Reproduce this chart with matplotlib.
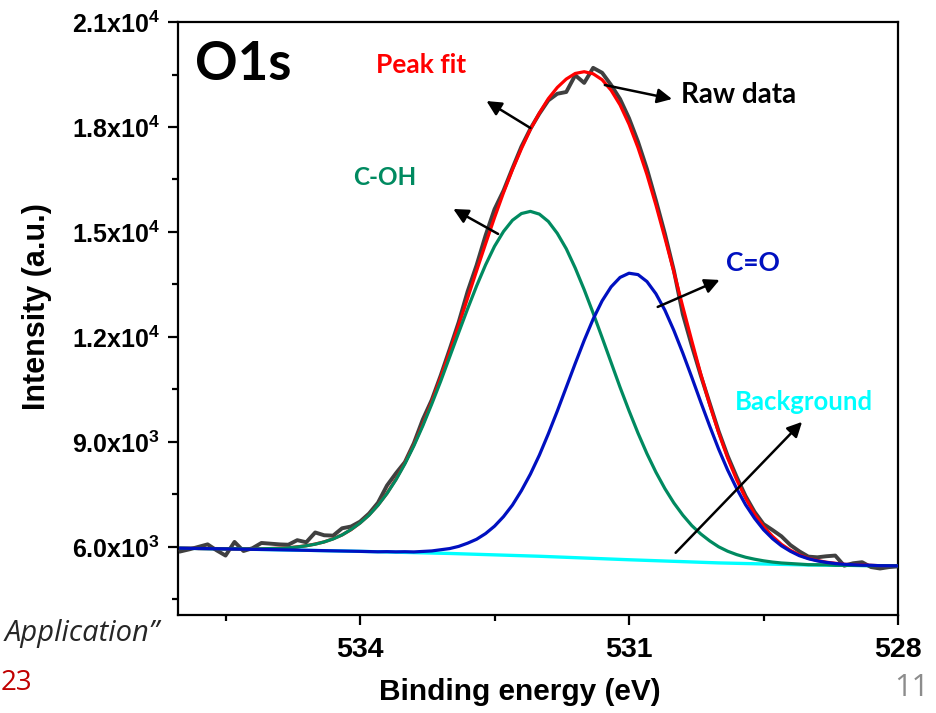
# %% O1s XPS spectrum with peak fit
import numpy as np
import matplotlib
matplotlib.use("Agg")
import matplotlib.pyplot as plt
from matplotlib.ticker import MultipleLocator

plt.rcParams['font.family'] = ['Liberation Sans', 'DejaVu Sans']
plt.rcParams['mathtext.fontset'] = 'custom'
plt.rcParams['mathtext.rm'] = 'Liberation Sans:bold'
plt.rcParams['mathtext.bf'] = 'Liberation Sans:bold'

# binding energy grid, 536.0 -> 528.0 eV in 0.1 eV steps
energy = [536.0, 535.9, 535.8, 535.7, 535.6, 535.5, 535.4, 535.3, 535.2, 535.1,
          535.0, 534.9, 534.8, 534.7, 534.6, 534.5, 534.4, 534.3, 534.2, 534.1,
          534.0, 533.9, 533.8, 533.7, 533.6, 533.5, 533.4, 533.3, 533.2, 533.1,
          533.0, 532.9, 532.8, 532.7, 532.6, 532.5, 532.4, 532.3, 532.2, 532.1,
          532.0, 531.9, 531.8, 531.7, 531.6, 531.5, 531.4, 531.3, 531.2, 531.1,
          531.0, 530.9, 530.8, 530.7, 530.6, 530.5, 530.4, 530.3, 530.2, 530.1,
          530.0, 529.9, 529.8, 529.7, 529.6, 529.5, 529.4, 529.3, 529.2, 529.1,
          529.0, 528.9, 528.8, 528.7, 528.6, 528.5, 528.4, 528.3, 528.2, 528.1,
          528.0]

raw_data = [5870, 5930, 6000, 6070, 5900, 5750, 6140, 5880, 5960, 6110,
            6090, 6070, 6060, 6190, 6130, 6410, 6330, 6320, 6530, 6580,
            6720, 6950, 7260, 7750, 8100, 8420, 8960, 9640, 10200, 10900,
            11650, 12420, 13300, 14050, 14900, 15650, 16180, 16820, 17440, 17950,
            18380, 18760, 18950, 19000, 19480, 19260, 19690, 19550, 19200, 18800,
            18250, 17580, 16800, 15900, 14950, 13900, 12650, 11750, 10900, 10100,
            9300, 8600, 8000, 7450, 7000, 6650, 6480, 6300, 6050, 5870,
            5720, 5700, 5730, 5750, 5460, 5530, 5560, 5420, 5380, 5420,
            5440]

peak_fit = [5960, 5960, 5950, 5950, 5950, 5940, 5940, 5940, 5940, 5940,
            5950, 5960, 5970, 6000, 6030, 6080, 6140, 6230, 6340, 6490,
            6680, 6910, 7190, 7530, 7930, 8390, 8910, 9500, 10140, 10840,
            11570, 12330, 13110, 13890, 14660, 15410, 16120, 16780, 17380, 17930,
            18400, 18810, 19130, 19370, 19530, 19580, 19520, 19350, 19050, 18630,
            18080, 17410, 16640, 15770, 14830, 13860, 12860, 11890, 10940, 10060,
            9260, 8540, 7920, 7390, 6940, 6580, 6300, 6070, 5900, 5770,
            5670, 5610, 5560, 5530, 5500, 5490, 5480, 5470, 5460, 5460,
            5460]

c_oh = [5960, 5956, 5952, 5948, 5944, 5940, 5946, 5942, 5938, 5944,
        5950, 5955, 5970, 5995, 6030, 6075, 6140, 6225, 6340, 6495,
        6680, 6904, 7188, 7522, 7916, 8370, 8884, 9458, 10082, 10736,
        11430, 12122, 12804, 13456, 14058, 14590, 15012, 15334, 15526, 15588,
        15510, 15300, 14960, 14520, 13970, 13350, 12680, 11980, 11270, 10560,
        9890, 9251, 8662, 8133, 7664, 7255, 6906, 6607, 6368, 6169,
        6000, 5874, 5778, 5702, 5646, 5600, 5564, 5538, 5522, 5506,
        5490, 5488, 5485, 5472, 5470, 5468, 5465, 5462, 5460, 5458,
        5455]

c_eq_o = [5960, 5956, 5952, 5948, 5944, 5940, 5936, 5932, 5928, 5924,
          5920, 5915, 5910, 5905, 5900, 5895, 5890, 5885, 5880, 5875,
          5870, 5864, 5858, 5862, 5856, 5860, 5854, 5868, 5882, 5916,
          5950, 6012, 6104, 6216, 6378, 6590, 6862, 7194, 7606, 8078,
          8620, 9230, 9880, 10560, 11240, 11900, 12510, 13030, 13430, 13700,
          13820, 13781, 13582, 13233, 12764, 12185, 11536, 10847, 10138, 9449,
          8790, 8194, 7668, 7202, 6816, 6490, 6234, 6028, 5872, 5746,
          5660, 5598, 5555, 5522, 5500, 5488, 5475, 5472, 5460, 5458,
          5455]

background = [5960, 5956, 5952, 5948, 5944, 5940, 5936, 5932, 5928, 5924,
              5920, 5915, 5910, 5905, 5900, 5895, 5890, 5885, 5880, 5875,
              5870, 5864, 5858, 5852, 5846, 5840, 5834, 5828, 5822, 5816,
              5810, 5802, 5794, 5786, 5778, 5770, 5762, 5754, 5746, 5738,
              5730, 5720, 5710, 5700, 5690, 5680, 5670, 5660, 5650, 5640,
              5630, 5621, 5612, 5603, 5594, 5585, 5576, 5567, 5558, 5549,
              5540, 5534, 5528, 5522, 5516, 5510, 5504, 5498, 5492, 5486,
              5480, 5478, 5475, 5472, 5470, 5468, 5465, 5462, 5460, 5458,
              5455]

y_ticks = [6000, 9000, 12000, 15000, 18000, 21000]
y_tick_labels = ["6.0x10$^3$", "9.0x10$^3$", "1.2x10$^4$", "1.5x10$^4$", "1.8x10$^4$", "2.1x10$^4$"]
x_ticks = [534, 531, 528]

GREEN = "#008a60"
BLUE = "#0010c0"
CYAN = "#00ffff"
RED = "#ff0000"
GRAY = "#404040"

fig = plt.figure(figsize=(9.36, 7.13), dpi=100)
ax = fig.add_axes([0.1902, 0.1374, 0.7692, 0.8317])

ax.plot(energy, background, color=CYAN, lw=2.4, zorder=2)
ax.plot(energy, raw_data, color=GRAY, lw=2.8, zorder=3)
ax.plot(energy, peak_fit, color=RED, lw=2.3, zorder=4)
ax.plot(energy, c_oh, color=GREEN, lw=2.3, zorder=5)
ax.plot(energy, c_eq_o, color=BLUE, lw=2.3, zorder=6)

ax.set_xlim(536.03, 528)
ax.set_ylim(4050, 21000)
ax.set_xticks(x_ticks)
ax.set_xticklabels([str(t) for t in x_ticks])
ax.xaxis.set_minor_locator(MultipleLocator(1.5))
ax.set_yticks(y_ticks)
ax.set_yticklabels(y_tick_labels)
ax.yaxis.set_minor_locator(MultipleLocator(1500))

for s in ax.spines.values():
    s.set_linewidth(1.6)
ax.tick_params(which='major', direction='out', length=7, width=1.6)
ax.tick_params(which='minor', direction='out', length=4, width=1.6)
ax.tick_params(axis='x', which='major', labelsize=20.5, pad=9)
ax.tick_params(axis='y', which='major', labelsize=18, pad=6)
for lab in ax.get_xticklabels() + ax.get_yticklabels():
    lab.set_fontweight('bold')

ax.set_xlabel("Binding energy (eV)", fontsize=21.5, fontweight='bold')
ax.set_ylabel("Intensity (a.u.)", fontsize=22, fontweight='bold')
ax.xaxis.set_label_coords(0.475, -0.106)
ax.yaxis.set_label_coords(-0.175, 0.52)

# labels and arrows
lab_font = ['Lato', 'DejaVu Sans']
ax.text(535.30, 19800, "O1s", fontsize=38, fontweight='bold', family=lab_font,
        ha='center', va='center')
ax.text(533.32, 19771, "Peak fit", fontsize=19, fontweight='bold', family=lab_font,
        color=RED, ha='center', va='center')
ax.text(529.78, 18914, "Raw data", fontsize=20, fontweight='bold', family=lab_font,
        color='black', ha='center', va='center')
ax.text(533.72, 16543, "C-OH", fontsize=17.5, fontweight='bold', family=lab_font,
        color=GREEN, ha='center', va='center')
ax.text(529.62, 14114, "C=O", fontsize=19, fontweight='bold', family=lab_font,
        color=BLUE, ha='center', va='center')
ax.text(529.05, 10143, "Background", fontsize=18.5, fontweight='bold', family=lab_font,
        color=CYAN, ha='center', va='center')

arrows = [((532.10, 17971), (532.59, 18742)),
          ((531.27, 19200), (530.52, 18800)),
          ((532.46, 14943), (532.96, 15657)),
          ((530.68, 12857), (529.99, 13628)),
          ((530.48, 5829), (529.07, 9571))]
for tail, head in arrows:
    ax.annotate("", xy=head, xytext=tail, zorder=8,
                arrowprops=dict(arrowstyle='-|>', color='black', lw=1.8,
                                mutation_scale=22, shrinkA=0, shrinkB=0))

# slide leftovers around the chart
fig.text(160 / 936, 1 - 633 / 713, "Application\u201d", fontsize=21, style='italic',
         family=['Open Sans', 'DejaVu Sans'], color='#262626', ha='right', va='center')
fig.text(1 / 936, 1 - 683 / 713, "23", fontsize=20, family=['Open Sans', 'DejaVu Sans'],
         color='#c00000', ha='left', va='center')
fig.text(912 / 936, 1 - 688 / 713, "11", fontsize=22, family=['Open Sans', 'DejaVu Sans'],
         color='#8c8c8c', ha='center', va='center')

fig.savefig("out.png", dpi=100)
